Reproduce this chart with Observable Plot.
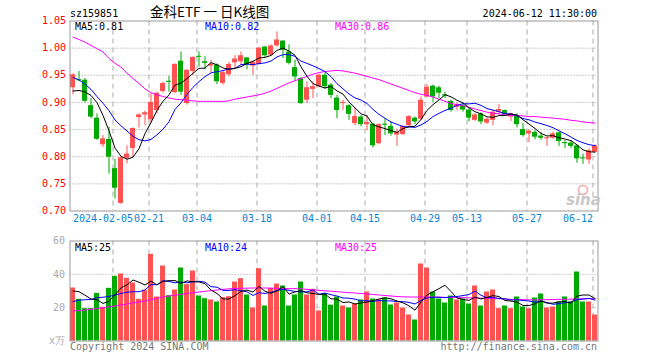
<!DOCTYPE html>
<html><head><meta charset="utf-8">
<script src="https://cdn.jsdelivr.net/npm/d3@7"></script>
<script src="https://cdn.jsdelivr.net/npm/@observablehq/plot@0.6"></script>
<style>
body{margin:0;background:#fff;}
#wrap{position:relative;width:660px;height:360px;overflow:hidden;background:#fff;}
#wrap svg{position:absolute;left:0;}
</style></head><body><div id="wrap"></div>
<script>
// ---- data ----
const opens  = [0.927,0.942,0.941,0.894,0.871,0.822,0.832,0.778,0.714,0.797,0.815,0.872,0.877,0.868,0.885,0.920,0.939,0.918,0.976,0.898,0.957,0.985,0.975,0.967,0.969,0.935,0.951,0.973,0.975,0.982,0.967,0.970,1.002,0.987,1.004,1.013,0.993,0.964,0.944,0.904,0.924,0.929,0.950,0.932,0.908,0.898,0.894,0.861,0.873,0.859,0.860,0.824,0.860,0.856,0.840,0.841,0.857,0.871,0.869,0.910,0.930,0.927,0.914,0.902,0.891,0.894,0.886,0.867,0.879,0.862,0.867,0.882,0.885,0.873,0.876,0.850,0.842,0.845,0.838,0.833,0.834,0.844,0.826,0.825,0.820,0.798,0.794,0.808];
const highs  = [0.953,0.957,0.944,0.907,0.879,0.839,0.854,0.795,0.800,0.820,0.853,0.879,0.884,0.916,0.918,0.937,0.948,0.971,0.993,0.961,0.984,0.993,0.984,0.977,0.971,0.958,0.974,0.986,0.993,0.983,0.976,1.001,1.003,1.006,1.030,1.014,1.006,0.978,0.946,0.938,0.938,0.952,0.955,0.935,0.913,0.904,0.896,0.890,0.876,0.876,0.861,0.861,0.870,0.864,0.851,0.857,0.876,0.873,0.910,0.933,0.932,0.930,0.919,0.904,0.899,0.898,0.888,0.879,0.881,0.871,0.885,0.896,0.886,0.880,0.879,0.861,0.849,0.848,0.845,0.836,0.845,0.845,0.830,0.830,0.822,0.805,0.814,0.822];
const lows   = [0.914,0.938,0.899,0.870,0.830,0.817,0.768,0.722,0.712,0.787,0.797,0.853,0.857,0.862,0.879,0.917,0.919,0.916,0.913,0.895,0.950,0.965,0.960,0.955,0.933,0.932,0.947,0.962,0.968,0.960,0.950,0.969,0.983,0.985,1.002,0.981,0.969,0.938,0.896,0.898,0.907,0.927,0.924,0.907,0.870,0.885,0.867,0.857,0.855,0.848,0.816,0.822,0.839,0.838,0.819,0.839,0.855,0.859,0.867,0.908,0.900,0.907,0.907,0.882,0.885,0.882,0.864,0.865,0.859,0.859,0.857,0.877,0.876,0.865,0.853,0.836,0.826,0.831,0.830,0.819,0.832,0.819,0.815,0.815,0.788,0.786,0.786,0.807];
const closes = [0.951,0.940,0.902,0.873,0.832,0.833,0.799,0.742,0.798,0.805,0.852,0.877,0.881,0.900,0.917,0.935,0.937,0.970,0.919,0.959,0.983,0.983,0.972,0.970,0.938,0.955,0.970,0.980,0.986,0.969,0.974,1.000,0.986,1.004,1.015,0.996,0.972,0.947,0.898,0.927,0.929,0.950,0.929,0.913,0.885,0.900,0.878,0.874,0.859,0.863,0.820,0.859,0.858,0.842,0.845,0.856,0.874,0.864,0.904,0.928,0.910,0.917,0.912,0.885,0.896,0.886,0.871,0.877,0.864,0.869,0.882,0.887,0.877,0.879,0.859,0.839,0.847,0.836,0.834,0.835,0.842,0.828,0.824,0.819,0.796,0.796,0.811,0.820];
const volumes = [31.8,25,19.4,19.4,28.6,20.2,31.6,38.8,40.2,37.6,34.8,25,30.4,52,26.4,45,27.2,30.6,43.8,33.8,42,27,25.4,24.6,23.4,26,26.6,35.4,37.4,27.6,19.8,43.4,21,31.6,34.2,33,21,27.6,35.4,27.6,31,18,28.5,21.5,26.4,21,19.8,22.2,24.6,29.4,25.2,24.6,25.8,21.6,22.8,19.8,15.6,12.6,46.2,43.8,29.4,25.2,22.8,27,24.6,25.2,22.2,33,21,29.4,30.6,19.4,21,19.4,26.4,20.4,19.4,25.8,28.2,19.8,20.4,23.4,26.4,23.4,41.4,23.4,23.4,15.6];
const priceMA30 = [1.020,1.016,1.011,1.005,0.999,0.993,0.981,0.972,0.965,0.954,0.944,0.935,0.925,0.918,0.914,0.911,0.908,0.906,0.905,0.904,0.903,0.902,0.902,0.902,0.902,0.902,0.903,0.906,0.908,0.910,0.912,0.914,0.917,0.921,0.926,0.931,0.936,0.940,0.944,0.948,0.952,0.955,0.957,0.958,0.959,0.958,0.956,0.954,0.951,0.948,0.945,0.942,0.938,0.934,0.930,0.926,0.922,0.918,0.915,0.913,0.910,0.906,0.902,0.898,0.896,0.894,0.891,0.888,0.885,0.882,0.880,0.879,0.877,0.876,0.876,0.875,0.874,0.874,0.873,0.872,0.871,0.870,0.869,0.867,0.866,0.864,0.863,0.862];
const volMA30 = [18.0,18.3,18.6,19.0,19.5,20.0,20.5,21.0,21.6,22.2,22.8,23.4,24.0,24.8,25.6,26.4,27.0,27.5,28.0,28.5,29.0,29.4,29.8,30.2,30.6,31.0,31.3,31.5,31.6,31.7,31.8,31.8,31.8,31.7,31.6,31.5,31.4,31.4,31.3,31.0,30.7,30.4,30.1,29.9,29.6,29.3,29.0,28.8,28.5,28.2,27.9,27.6,27.3,27.0,26.7,26.5,26.4,26.4,26.4,26.4,26.4,26.3,26.2,26.1,26.0,26.0,25.9,25.8,25.7,25.6,25.5,25.4,25.2,25.0,24.9,24.8,24.7,24.6,24.7,24.8,24.9,25.0,25.0,25.1,25.2,25.3,25.4,25.4];
const prevCloses = [0.985,0.980,0.970,0.965,0.955,0.935,0.915,0.905,0.899];
const prevVolumes = [16,17,18,17,18,27,30,31,30.2];
const tickIndex = [7,13,21,31,41,49,59,66,76,87];
const tickLabels = ["2024-02-05","02-21","03-04","03-18","04-01","04-15","04-29","05-13","05-27","06-12"];
const priceTicks = [0.70,0.75,0.80,0.85,0.90,0.95,1.00,1.05];
const priceGrid = [0.75,0.80,0.85,0.90,0.95,1.00];
const volTicks = [0,20,40,60];
const volGrid = [20,40];

// ---- derived ----
function movingAvg(series, prev, n) {
  const all = prev.concat(series), p = prev.length;
  return series.map((_, i) => d3.mean(all.slice(i + p - n + 1, i + p + 1)));
}
const ma5 = movingAvg(closes, prevCloses, 5);
const ma10 = movingAvg(closes, prevCloses, 10);
const vma5 = movingAvg(volumes, prevVolumes, 5);
const vma10 = movingAvg(volumes, prevVolumes, 10);
const rows = closes.map((c, i) => ({
  i, open: opens[i], high: highs[i], low: lows[i], close: c, vol: volumes[i],
  up: c > opens[i], ma5: ma5[i], ma10: ma10[i], ma30: priceMA30[i],
  vma5: vma5[i], vma10: vma10[i], vma30: volMA30[i]
}));
const upRows = rows.filter(d => d.up), downRows = rows.filter(d => !d.up);
const ticks = tickIndex.map((k, j) => ({k, label: tickLabels[j]}));

const RED = "#ff5353", GREEN = "#00aa00";
const mono = "'DejaVu Sans Mono','Liberation Mono',monospace";
const half = 5/12;
const xOpt = {domain: [-0.5, 87.5], axis: null};
const common = {width: 660, marginLeft: 69.5, marginRight: 62.5,
  style: {fontFamily: mono, fontSize: "10px", background: "transparent", overflow: "visible"}};

const main = Plot.plot({
  ...common, height: 230, marginTop: 20.5, marginBottom: 19.5,
  x: xOpt, y: {domain: [0.70, 1.05], axis: null},
  marks: [
    Plot.gridY(priceGrid, {stroke: "#999", strokeOpacity: 1, strokeDasharray: "1,2"}),
    Plot.ruleX(tickIndex, {x: d => d - 1/3, stroke: "#aaa", strokeDasharray: "5,4"}),
    Plot.axisY(priceTicks, {tickSize: 0, tickPadding: 4, tickFormat: d => d.toFixed(2), color: "#f00", label: null}),
    Plot.text(ticks.slice(0, 1), {x: d => d.k - 1/3, text: "label", frameAnchor: "bottom", dy: 11, dx: -10, fill: "#0a84d4"}),
    Plot.text(ticks.slice(1, -1), {x: d => d.k - 1/3, text: "label", frameAnchor: "bottom", dy: 11, fill: "#0a84d4"}),
    Plot.text(ticks.slice(-1), {x: d => d.k - 1/3, text: "label", frameAnchor: "bottom", dy: 11, textAnchor: "end", fill: "#0a84d4"}),
    Plot.ruleX(upRows, {x: "i", y1: "low", y2: "high", stroke: RED}),
    Plot.ruleX(downRows, {x: "i", y1: "low", y2: "high", stroke: GREEN}),
    Plot.rect(upRows, {x1: d => d.i - half, x2: d => d.i + half, y1: "open", y2: "close", fill: RED}),
    Plot.rect(downRows, {x1: d => d.i - half, x2: d => d.i + half, y1: "open", y2: "close", fill: GREEN}),
    Plot.line(rows, {x: "i", y: "ma30", stroke: "#ff00ff", strokeWidth: 1}),
    Plot.line(rows, {x: "i", y: "ma10", stroke: "#0000ff", strokeWidth: 1}),
    Plot.line(rows, {x: "i", y: "ma5", stroke: "#000", strokeWidth: 1}),
    Plot.frame({stroke: "#999"})
  ]
});
main.style.top = "0px";

const volp = Plot.plot({
  ...common, height: 130, marginTop: 10.5, marginBottom: 19.5,
  x: xOpt, y: {domain: [0, 60], axis: null},
  marks: [
    Plot.gridY(volGrid, {stroke: "#999", strokeOpacity: 1, strokeDasharray: "1,2"}),
    Plot.ruleX(tickIndex, {x: d => d - 1/3, stroke: "#aaa", strokeDasharray: "5,4"}),
    Plot.axisY(volTicks, {tickSize: 0, tickPadding: 5, tickFormat: d => d === 0 ? "x万" : String(d), color: "#aaa", label: null}),
    Plot.rectY(upRows, {x1: d => d.i - half, x2: d => d.i + half, y: "vol", fill: RED}),
    Plot.rectY(downRows, {x1: d => d.i - half, x2: d => d.i + half, y: "vol", fill: GREEN}),
    Plot.line(rows, {x: "i", y: "vma30", stroke: "#ff00ff", strokeWidth: 1}),
    Plot.line(rows, {x: "i", y: "vma10", stroke: "#0000ff", strokeWidth: 1}),
    Plot.line(rows, {x: "i", y: "vma5", stroke: "#000", strokeWidth: 1}),
    Plot.frame({stroke: "#999"})
  ]
});
volp.style.top = "230px";

const wrap = document.getElementById("wrap");
wrap.appendChild(main);
wrap.appendChild(volp);

// ---- overlay texts ----
const last = rows[rows.length - 1];
const ov = d3.select(wrap).append("svg").attr("width", 660).attr("height", 360)
  .style("top", "0px").style("pointer-events", "none")
  .attr("font-family", mono).attr("font-size", 10);
function t(x, y, s, fill, anchor, extra) {
  const e = ov.append("text").attr("x", x).attr("y", y).attr("dy", "0.35em")
    .attr("fill", fill).attr("text-anchor", anchor || "start").text(s);
  if (extra) extra(e);
  return e;
}
t(70, 13, "sz159851", "#000");
t(150, 12.5, "金科ETF 一 日K线图", "#000", "start", e => e.attr("font-family", "'Noto Sans CJK SC',sans-serif").attr("font-size", 13.5).attr("xml:space", "preserve"));
t(597, 13, "2024-06-12 11:30:00", "#000", "end");
t(75, 26.5, "MA5:" + last.ma5.toFixed(2), "#000");
t(205, 26.5, "MA10:" + last.ma10.toFixed(2), "#0000ff");
t(335, 26.5, "MA30:" + last.ma30.toFixed(2), "#ff00ff");
t(75, 247, "MA5:" + Math.floor(last.vma5), "#000");
t(205, 247, "MA10:" + Math.floor(last.vma10), "#0000ff");
t(335, 247, "MA30:" + Math.floor(last.vma30), "#ff00ff");
t(70, 346, "Copyright 2024 SINA.COM", "#777");
t(597, 346, "http://finance.sina.com.cn", "#777", "end");
// sina watermark
ov.append("circle").attr("cx", 583).attr("cy", 190).attr("r", 4.5).attr("fill", "none").attr("stroke", "#f3b8b8").attr("stroke-width", 2);
t(566, 200, "sina", "#c8c8c8", "start", e => e.attr("font-family", "'DejaVu Sans',sans-serif").attr("font-size", 15).attr("font-weight", "bold").attr("font-style", "italic"));
</script></body></html>
